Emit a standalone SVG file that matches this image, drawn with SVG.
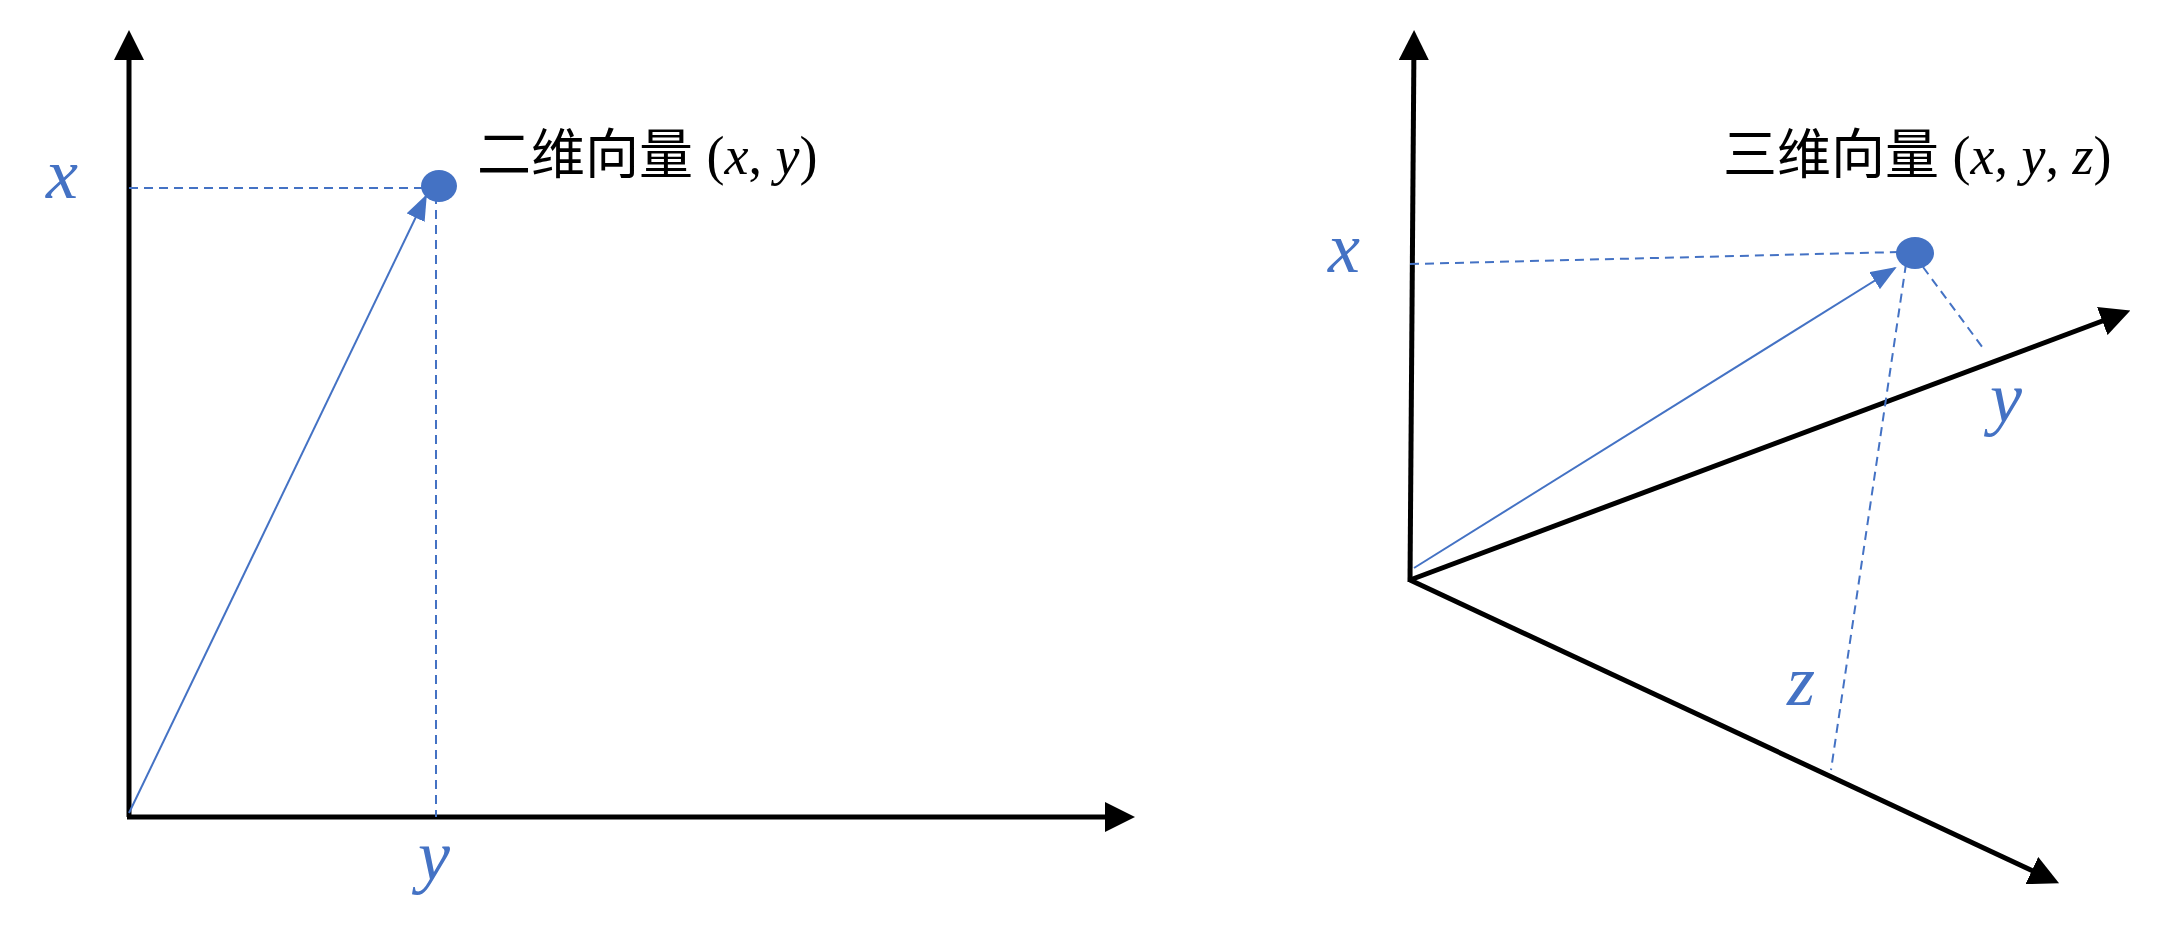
<svg xmlns="http://www.w3.org/2000/svg" width="2182" height="949" viewBox="0 0 2182 949">
<style>
.axis{stroke:#000;stroke-width:5;fill:none}
.vec{stroke:#4472C4;stroke-width:2;fill:none}
.dash{stroke:#4472C4;stroke-width:2;stroke-dasharray:9,6;fill:none}
.lbl{font-family:'Liberation Serif','DejaVu Serif',serif;font-style:italic;fill:#4472C4;font-size:72px}
.title{font-family:'Liberation Serif','Noto Sans CJK SC',serif;font-size:54px;fill:#000}
.it{font-style:italic}
</style>
<defs>
<marker id="ah" markerWidth="6" markerHeight="6" refX="4" refY="3" orient="auto" markerUnits="strokeWidth"><path d="M0,0 L6,3 L0,6 Z" fill="#000"/></marker>
<marker id="bh" markerWidth="26" markerHeight="20" refX="24" refY="10" orient="auto" markerUnits="userSpaceOnUse"><path d="M0,0 L26,10 L0,20 Z" fill="#4472C4"/></marker>
</defs>
<g id="connectors">
<line class="axis" x1="129" y1="817" x2="129" y2="40" marker-end="url(#ah)"/>
<line class="axis" x1="127" y1="817" x2="1125" y2="817" marker-end="url(#ah)"/>
<line class="dash" x1="129" y1="188" x2="424" y2="188"/>
<line class="dash" x1="436" y1="195" x2="436" y2="817"/>
<line class="vec" x1="129" y1="813" x2="426" y2="196" marker-end="url(#bh)"/>
<line class="axis" x1="1410" y1="582" x2="1414" y2="40" marker-end="url(#ah)"/>
<line class="axis" x1="1410" y1="580" x2="2121" y2="314" marker-end="url(#ah)"/>
<line class="axis" x1="1410" y1="580" x2="2050" y2="879" marker-end="url(#ah)"/>
<line class="dash" x1="1410" y1="264" x2="1900" y2="252"/>
<line class="vec" x1="1414" y1="568" x2="1895" y2="268" marker-end="url(#bh)"/>
<line class="dash" x1="1906" y1="264" x2="1831" y2="770"/>
<line class="dash" x1="1923" y1="267" x2="1983" y2="348"/>
</g>
<g id="point2d"><ellipse cx="439" cy="186" rx="18" ry="16" fill="#4472C4"/></g>
<g id="point3d"><ellipse cx="1915" cy="253" rx="19" ry="16" fill="#4472C4"/></g>
<g id="labels">
<text class="lbl" x="46" y="198">x</text>
<text class="lbl" x="418" y="880">y</text>
<text class="title" x="477" y="174">二维向量 (<tspan class="it">x</tspan>, <tspan class="it">y</tspan>)</text>
<text class="lbl" x="1328" y="272">x</text>
<text class="lbl" x="1990" y="422">y</text>
<text class="lbl" x="1787" y="705">z</text>
<text class="title" x="1723" y="174">三维向量 (<tspan class="it">x</tspan>, <tspan class="it">y</tspan>, <tspan class="it">z</tspan>)</text>
</g>
</svg>
